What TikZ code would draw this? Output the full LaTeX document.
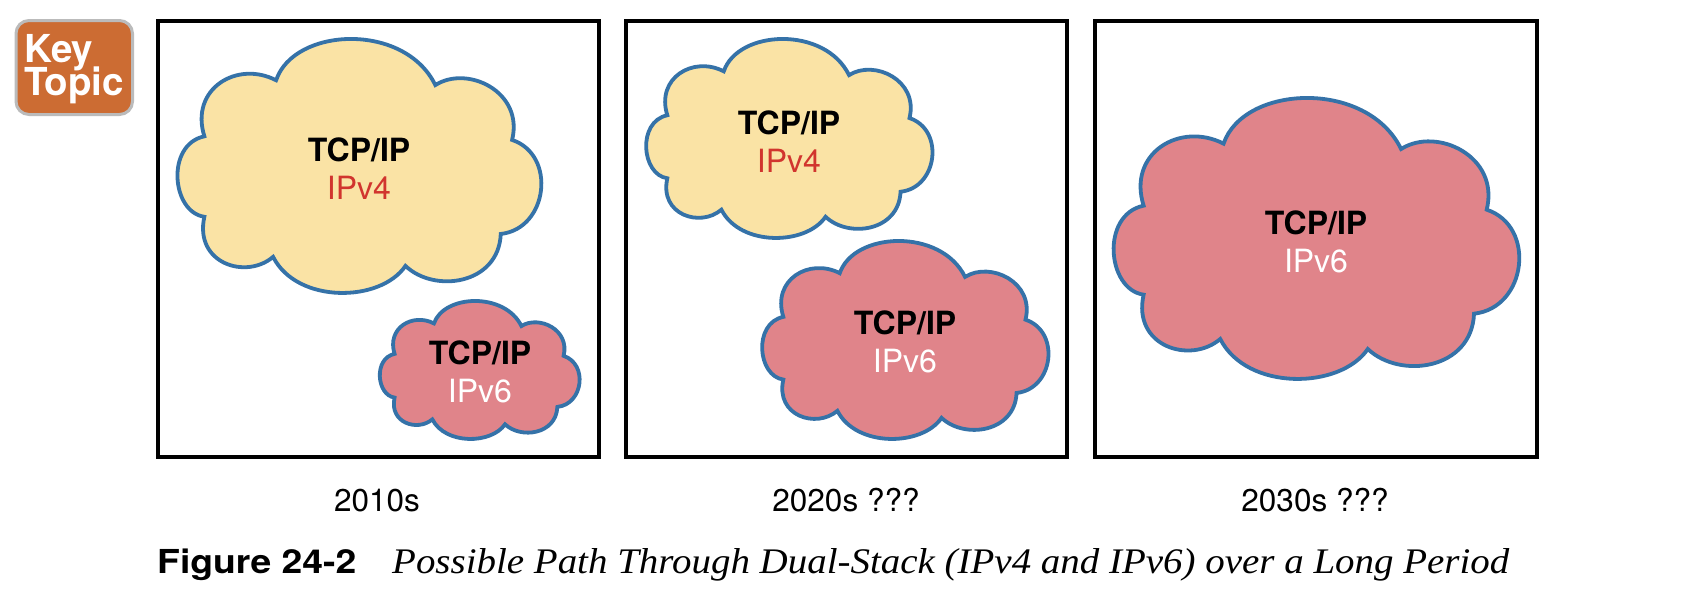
\documentclass[tikz,border=0pt]{standalone}
\usepackage{fontspec}
\setmainfont{TeX Gyre Heros}
\newfontfamily\capserif{Liberation Serif}
\definecolor{cloudblue}{HTML}{3572A8}
\definecolor{cloudyellow}{HTML}{FAE3A5}
\definecolor{cloudpink}{HTML}{E0848A}
\definecolor{ipred}{HTML}{D1352E}
\definecolor{keyorange}{HTML}{CC6C33}
\definecolor{keygray}{HTML}{BBBBBB}
\newcommand{\cloudshape}[5]{%
  \begin{scope}[shift={(#1,#2)},xscale=#3/1225,yscale=#4/843,shift={(-65,-295)}]
    \path[cloudline,fill=#5] (160,618)
      .. controls (110,460) and (270,365) .. (400,432)
      .. controls (460,255) and (830,238) .. (933,448)
      .. controls (1040,380) and (1230,470) .. (1190,630)
      .. controls (1340,680) and (1310,925) .. (1152,942)
      .. controls (1145,1110) and (930,1140) .. (833,1048)
      .. controls (750,1170) and (470,1175) .. (390,1018)
      .. controls (300,1095) and (125,1040) .. (160,885)
      .. controls (50,870) and (30,645) .. (160,618) -- cycle;
  \end{scope}}
\tikzset{
  cloudline/.style={draw=cloudblue,line width=3.8pt,line join=miter},
  panel/.style={draw=black,line width=3.6pt,fill=white},
  titletext/.style={anchor=base,inner sep=0pt,font=\fontsize{32}{36}\selectfont\bfseries,text=black},
  redtext/.style={anchor=base,inner sep=0pt,font=\fontsize{32}{36}\selectfont,text=ipred},
  whitetext/.style={anchor=base,inner sep=0pt,font=\fontsize{32}{36}\selectfont,text=white},
  yeartext/.style={anchor=base,inner sep=0pt,font=\fontsize{31.5}{36}\selectfont,text=black},
  keytext/.style={anchor=base west,inner sep=0pt,font=\fontsize{38.5}{40}\selectfont\bfseries,text=white},
}
\begin{document}
\begin{tikzpicture}[x=1pt,y=-1pt]
\useasboundingbox (0,0) rectangle (1708,590);
\fill[white] (0,0) rectangle (1708,590);
% key topic badge
\path[draw=keygray,line width=3pt,fill=keyorange,rounded corners=13pt] (16,20.5) rectangle (132.5,114.5);
\node[keytext] (key) at (24,62) {Key};
\node[keytext] (topic) at (24,95.5) {Topic};
% panels
\path[panel] (158,21) rectangle (599,457);
\path[panel] (626,21) rectangle (1067,457);
\path[panel] (1095,21) rectangle (1537,457);
% clouds
\cloudshape{176}{39}{366}{254}{cloudyellow}
\cloudshape{379}{301}{201}{138}{cloudpink}
\cloudshape{645}{39}{288}{199}{cloudyellow}
\cloudshape{761}{241}{288}{198}{cloudpink}
\cloudshape{1112}{98}{408}{281}{cloudpink}
% cloud labels
\node[titletext] (t1) at (359,161) {TCP/IP};
\node[redtext] (v1) at (359,199) {IPv4};
\node[titletext] (t2) at (480,364) {TCP/IP};
\node[whitetext] (v2) at (480,402) {IPv6};
\node[titletext] (t3) at (789,134) {TCP/IP};
\node[redtext] (v3) at (789,172) {IPv4};
\node[titletext] (t4) at (905,334) {TCP/IP};
\node[whitetext] (v4) at (905,372) {IPv6};
\node[titletext] (t5) at (1316,234) {TCP/IP};
\node[whitetext] (v5) at (1316,272) {IPv6};
% year labels
\node[yeartext] (y1) at (377,511.5) {2010s};
\node[yeartext] (y2) at (846,511.5) {2020s ???};
\node[yeartext] (y3) at (1315,511.5) {2030s ???};
% caption
\node[anchor=base west,inner sep=0pt,font=\fontsize{33}{36}\selectfont\bfseries,xscale=1.13] (figno) at (157,573) {Figure 24-2};
\node[anchor=base west,inner sep=0pt,font=\capserif\itshape\fontsize{36}{40}\selectfont,xscale=1.082] (figcap) at (392,573) {Possible Path Through Dual-Stack (IPv4 and IPv6) over a Long Period};
\end{tikzpicture}
\end{document}
